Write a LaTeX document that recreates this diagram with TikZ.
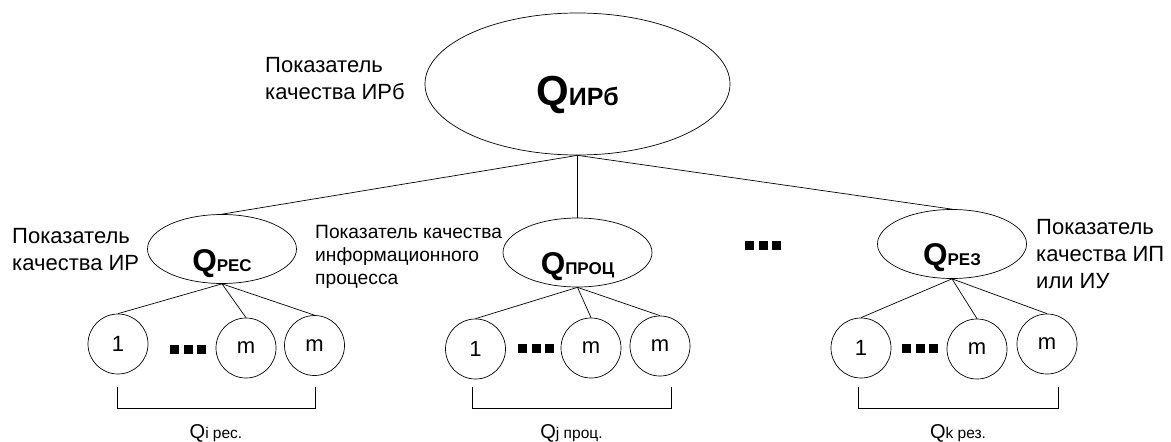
\documentclass[tikz,border=0pt]{standalone}
\usepackage{fontspec}
\setmainfont{Liberation Sans}
\newfontfamily\qfont{LiberationSans-Bold.ttf}
\usetikzlibrary{shapes.geometric}
\tikzset{
    big-oval/.style = {draw, ellipse, line width=0.7pt, minimum width=305pt, minimum height=142pt, inner sep=0pt},
    small-oval/.style = {draw, ellipse, line width=0.7pt, minimum width=149pt, minimum height=69pt, inner sep=0pt},
    leaf-circle/.style = {draw, circle, line width=0.7pt, minimum size=60pt, inner sep=0pt, font=\fontsize{22}{22}\selectfont},
    note-text/.style = {align=left, inner sep=0pt, anchor=base west, font=\fontsize{22}{27}\selectfont},
    note-small/.style = {note-text, font=\fontsize{19.2}{23}\selectfont},
    q-label/.style = {inner sep=0pt, anchor=base, font=\qfont},
    sum-label/.style = {inner sep=0pt, anchor=base, yshift=-30pt},
    link/.style = {line width=0.7pt},
}
\newcommand{\qbig}[1]{{\fontsize{42}{42}\selectfont Q}{\fontsize{25}{25}\selectfont #1}}
\newcommand{\qmid}[1]{{\fontsize{31.5}{31.5}\selectfont Q}{\fontsize{17}{17}\selectfont #1}}
\newcommand{\qsum}[2]{{\fontsize{20}{20}\selectfont Q}{\fontsize{15.5}{15.5}\selectfont #1 #2}}

\begin{document}
\begin{tikzpicture}[x=1pt, y=-1pt]
\useasboundingbox (0,0) rectangle (1171,442);

% top level
\node[big-oval] (qirb) at (577.5,84) {};
\node[q-label] (qirb-t) at ([yshift=-21pt]qirb.center) {\qbig{ИРб}};
\node[note-text] (lbl-irb) at (265,99) {Показатель\\качества ИРб};

% second level
\node[small-oval] (qres) at (222,249) {};
\node[small-oval] (qproc) at (577.5,252.5) {};
\node[small-oval] (qrez) at (952,244) {};
\node[q-label] (qres-t) at ([yshift=-22pt]qres.center) {\qmid{РЕС}};
\node[q-label] (qproc-t) at ([yshift=-22pt]qproc.center) {\qmid{ПРОЦ}};
\node[q-label] (qrez-t) at ([yshift=-21pt]qrez.center) {\qmid{РЕЗ}};
\node[note-text] (lbl-res) at (12,270) {Показатель\\качества ИР};
\node[note-small] (lbl-proc) at (315,284) {Показатель качества\\информационного\\процесса};
\node[note-text] (lbl-rez) at (1036,288) {Показатель\\качества ИП\\или ИУ};

% leaves
\node[leaf-circle] (res1) at (118,344) {1};
\node[leaf-circle] (res2) at (246,348) {m};
\node[leaf-circle] (res3) at (314.5,345.5) {m};
\node[leaf-circle] (proc1) at (475.5,349) {1};
\node[leaf-circle] (proc2) at (591,348) {m};
\node[leaf-circle] (proc3) at (660,346) {m};
\node[leaf-circle] (rez1) at (861,348) {1};
\node[leaf-circle] (rez2) at (977,349) {m};
\node[leaf-circle] (rez3) at (1047,344) {m};

% connectors
\foreach \g in {res,proc,rez} {
    \draw[link] (qirb.south) -- (q\g.north);
    \draw[link] (q\g.south) -- (\g1.north);
    \draw[link] (q\g.south) -- (\g2.north);
    \draw[link] (q\g.south) -- (\g3.north);
}

% dots
\foreach \x/\y in {174.5/349, 522.5/348, 906.5/348, 749.5/245}
    \foreach \k in {0,1,2}
        \fill (\x+13.5*\k-4.5, \y-4.5) rectangle ++(9,9);

% brackets
\draw[link] (117,387) -- (117,408) -- node[sum-label] (sum-res) {\qsum{i}{рес.}} (315,408) -- (315,387);
\draw[link] (472,387) -- (472,408) -- node[sum-label] (sum-proc) {\qsum{j}{проц.}} (671,408) -- (671,387);
\draw[link] (858,387) -- (858,408) -- node[sum-label] (sum-rez) {\qsum{k}{рез.}} (1058,408) -- (1058,387);
\end{tikzpicture}
\end{document}
